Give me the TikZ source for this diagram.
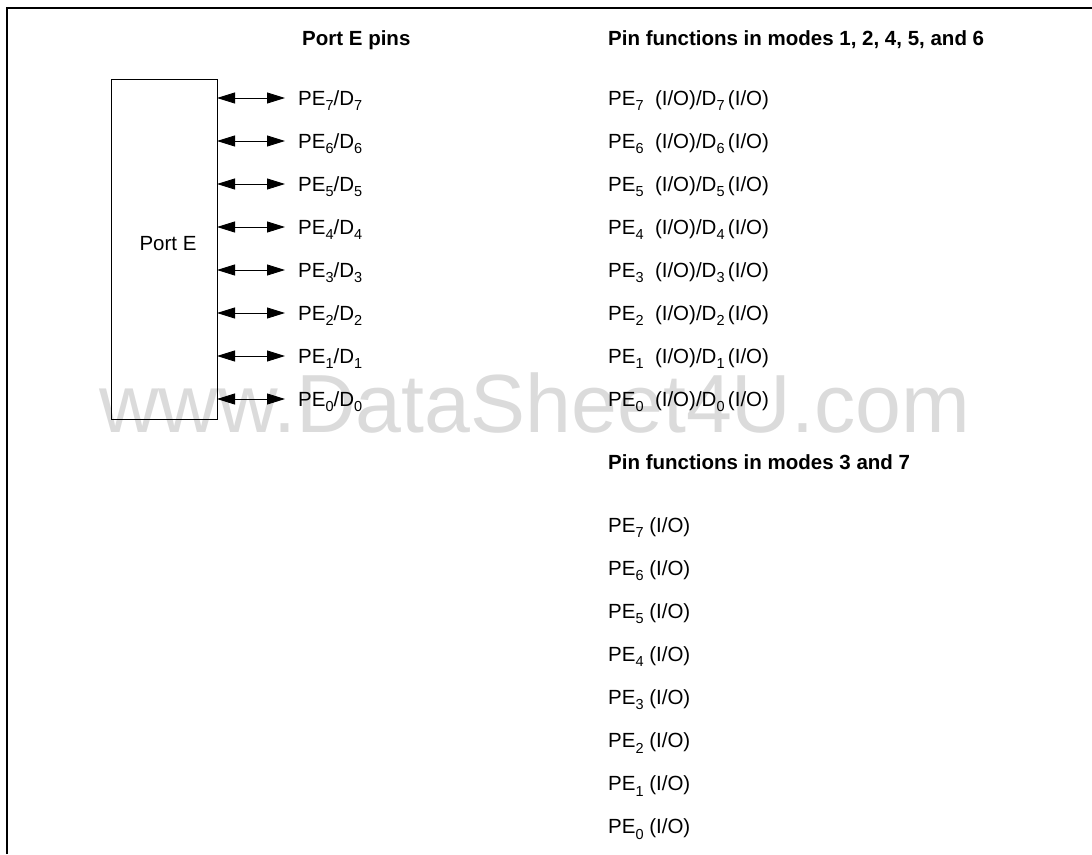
\documentclass[tikz,border=0pt]{standalone}
\usepackage{fontspec}
\setmainfont{Liberation Sans}
\usetikzlibrary{arrows.meta}
\newcommand\sbs[1]{\raisebox{-5.5pt}{\fontsize{14.5}{15}\selectfont #1}}
\tikzset{
  lbl/.style={anchor=base west, inner sep=0pt, font=\fontsize{20.5}{22}\selectfont},
  hdr/.style={anchor=base west, inner sep=0pt, font=\fontsize{20.5}{22}\selectfont\bfseries},
  pinarrow/.style={{Triangle[length=18pt,width=11pt]}-{Triangle[length=18pt,width=11pt]}, line width=0.9pt},
  frame/.style={line width=1.5pt},
}
\begin{document}
\begin{tikzpicture}[x=1pt,y=-1pt]
\useasboundingbox (0,0) rectangle (1092,854);
% watermark
\node[anchor=base west, inner sep=0pt, text=black!14, font=\fontsize{82.5}{90}\selectfont] (wm) at (99,432) {www.DataSheet4U.com};
% frame
\coordinate (ftl) at (7,8);
\coordinate (ftr) at (1092,8);
\coordinate (fbl) at (7,854);
\draw[frame] (fbl) -- (ftl) -- (ftr);
% port box
\node[draw, line width=1.2pt, minimum width=106pt, minimum height=340pt, inner sep=0pt, anchor=north west] (box) at (111,79) {};
\node[anchor=base, inner sep=0pt, font=\fontsize{20.5}{22}\selectfont] (boxlbl) at (168,250) {Port E};
% headers
\node[hdr] (h1) at (302,45) {Port E pins};
\node[hdr] (h2) at (608,45) {Pin functions in modes 1, 2, 4, 5, and 6};
\node[hdr] (h3) at (608,469) {Pin functions in modes 3 and 7};
% rows
\foreach \i/\n in {0/7,1/6,2/5,3/4,4/3,5/2,6/1,7/0}{
  \coordinate (a\n) at (217,98+43*\i);
  \coordinate (b\n) at (285,98+43*\i);
  \draw[pinarrow] (a\n) -- (b\n);
  \node[lbl] (p\n) at (298,105+43*\i) {PE\sbs{\n}/D\sbs{\n}};
  \node[lbl] (f\n) at (608,105+43*\i) {PE\sbs{\n}\ \ (I/O)/D\sbs{\n}\,(I/O)};
  \node[lbl] (g\n) at (608,532+43.1*\i) {PE\sbs{\n} (I/O)};
}
\end{tikzpicture}
\end{document}
